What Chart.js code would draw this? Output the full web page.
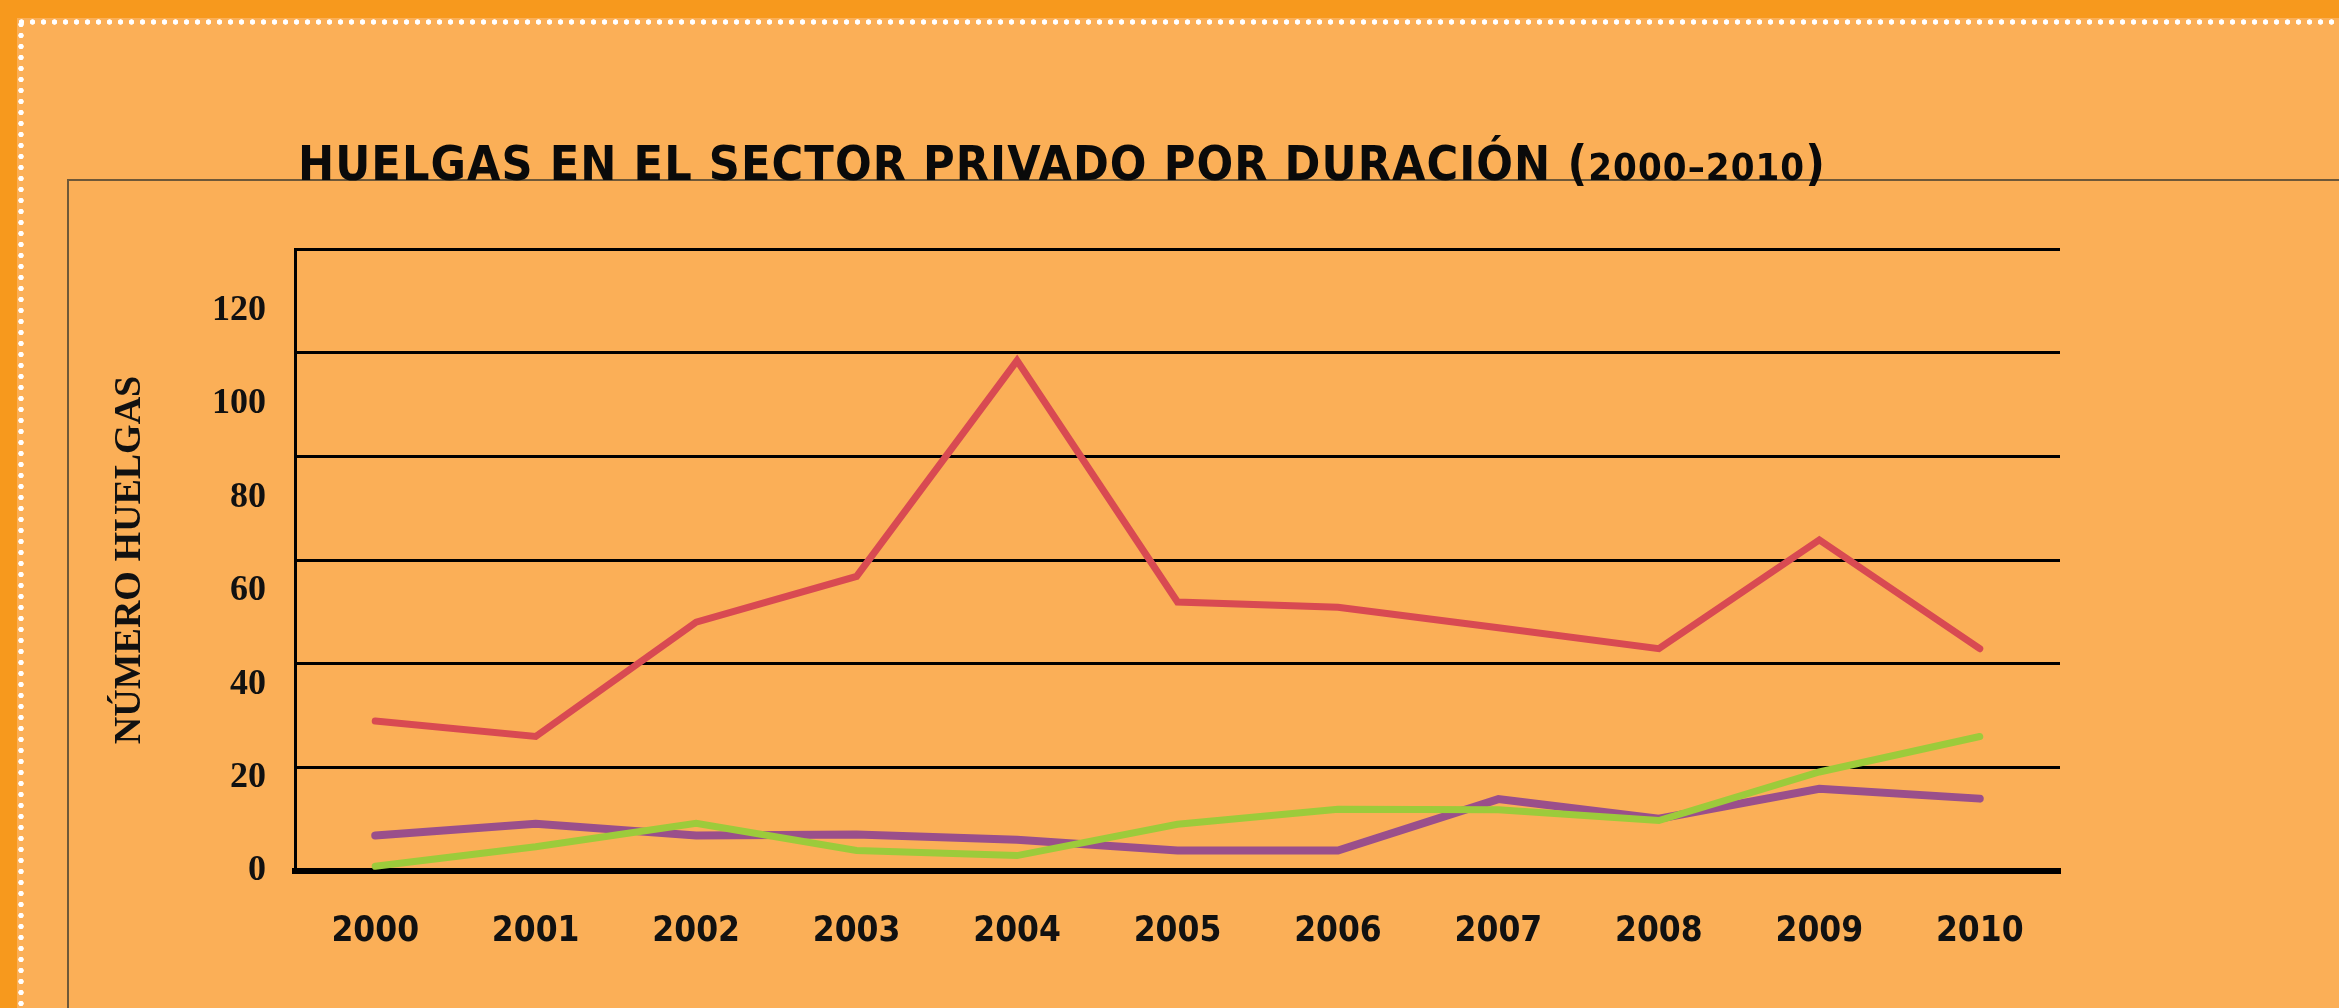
<!DOCTYPE html>
<html>
<head>
<meta charset="utf-8">
<script src="https://cdn.jsdelivr.net/npm/chart.js@4.4.0/dist/chart.umd.min.js"></script>
<style>
html, body { margin: 0; padding: 0; }
body { width: 2339px; height: 1008px; background: #F7991D; position: relative; overflow: hidden; }
#panel { position: absolute; left: 17px; top: 18px; right: 0; bottom: 0; background: #FBAF57; }
#dotsTop { position: absolute; left: 16px; top: 19px; right: 0; height: 6px;
  background: radial-gradient(circle, #fff 2.4px, rgba(255,255,255,0) 3px) 0 0 / 11px 6px repeat-x; }
#dotsLeft { position: absolute; left: 18px; top: 19px; width: 6px; bottom: 0;
  background: radial-gradient(circle, #fff 2.4px, rgba(255,255,255,0) 3px) 0 0 / 6px 11px repeat-y; }
#frame { position: absolute; left: 67px; top: 179px; right: -10px; bottom: -10px; border: 2px solid #6E5838; }
#title { position: absolute; left: 298px; top: 139px; font: bold 48px 'DejaVu Sans Condensed', 'DejaVu Sans', sans-serif;
  line-height: 48px; white-space: nowrap; color: #0a0a0a; }
#title .num { font-size: 38px; }
#chart { position: absolute; left: 0; top: 0; }
</style>
</head>
<body>
<div id="panel"></div>
<div id="dotsTop"></div>
<div id="dotsLeft"></div>
<div id="frame"></div>
<canvas id="chart" width="2339" height="1008"></canvas>
<div id="title">HUELGAS EN EL SECTOR PRIVADO POR DURACIÓN (<span class="num">2000–2010</span>)</div>
<script>
// Huelgas en el sector privado por duración, 2000-2010

const years = ['2000', '2001', '2002', '2003', '2004', '2005', '2006', '2007', '2008', '2009', '2010'];
const redSeries = [32.1, 28.8, 53.3, 63.1, 109.3, 57.6, 56.5, 52.1, 47.6, 70.9, 47.6];
const greenSeries = [1.0, 5.2, 10.2, 4.4, 3.3, 10.0, 13.2, 13.1, 10.8, 21.2, 28.8];
const purpleSeries = [7.6, 10.1, 7.6, 7.8, 6.7, 4.4, 4.4, 15.4, 11.2, 17.6, 15.5];
const yTicks = [0, 20, 40, 60, 80, 100, 120];

// stretch title letters to the printed width
const title = document.getElementById('title');
const chars = title.textContent.length;
const natural = title.getBoundingClientRect().width;
title.style.letterSpacing = ((1528 - natural) / chars) + 'px';

function line(data, color, width) {
    return {
        data: data,
        borderColor: color,
        borderWidth: width,
        pointRadius: 0,
        tension: 0,
        fill: false,
        borderCapStyle: 'round',
        borderJoinStyle: 'miter',
        yAxisID: 'y'
    };
}

const setTicks = scale => { scale.ticks = yTicks.map(v => ({ value: v })); };

new Chart(document.getElementById('chart').getContext('2d'), {
    type: 'line',
    data: {
        labels: years,
        datasets: [
            line(redSeries, '#D84A52', 7),
            line(greenSeries, '#9CCB3B', 7),
            line(purpleSeries, '#9A4F8B', 8)
        ]
    },
    options: {
        responsive: false,
        devicePixelRatio: 1,
        animation: false,
        layout: { padding: { left: 100, top: 249, right: 279, bottom: 0 } },
        plugins: { legend: { display: false }, tooltip: { enabled: false } },
        scales: {
            x: {
                type: 'category',
                offset: true,
                grid: { display: false, drawTicks: false },
                border: { display: true, color: '#000', width: 6 },
                ticks: {
                    color: '#111',
                    padding: 40,
                    font: { family: "'DejaVu Sans Condensed', 'DejaVu Sans'", weight: 'bold', size: 35 }
                },
                afterFit: s => { s.height = 137; }
            },
            y: {
                position: 'left',
                weight: 10,
                min: 0,
                max: 133.2,
                grid: { display: false, drawTicks: false },
                border: { display: false },
                afterBuildTicks: setTicks,
                ticks: {
                    color: '#111',
                    padding: 29,
                    font: { family: "'Liberation Serif'", weight: 'bold', size: 36 }
                },
                title: {
                    display: true,
                    text: 'NÚMERO HUELGAS',
                    color: '#111',
                    padding: { top: 7, bottom: 0 },
                    font: { family: "'Liberation Serif'", weight: 'bold', size: 38 }
                },
                afterFit: s => { s.width = 195; }
            },
            yGrid: {
                position: 'left',
                weight: 0,
                min: 0,
                max: 120,
                afterBuildTicks: setTicks,
                ticks: { display: false },
                grid: { color: '#000', lineWidth: 3, drawTicks: false },
                border: { display: true, color: '#000', width: 3 },
                afterFit: s => { s.width = 0; }
            }
        }
    }
});
</script>
</body>
</html>
